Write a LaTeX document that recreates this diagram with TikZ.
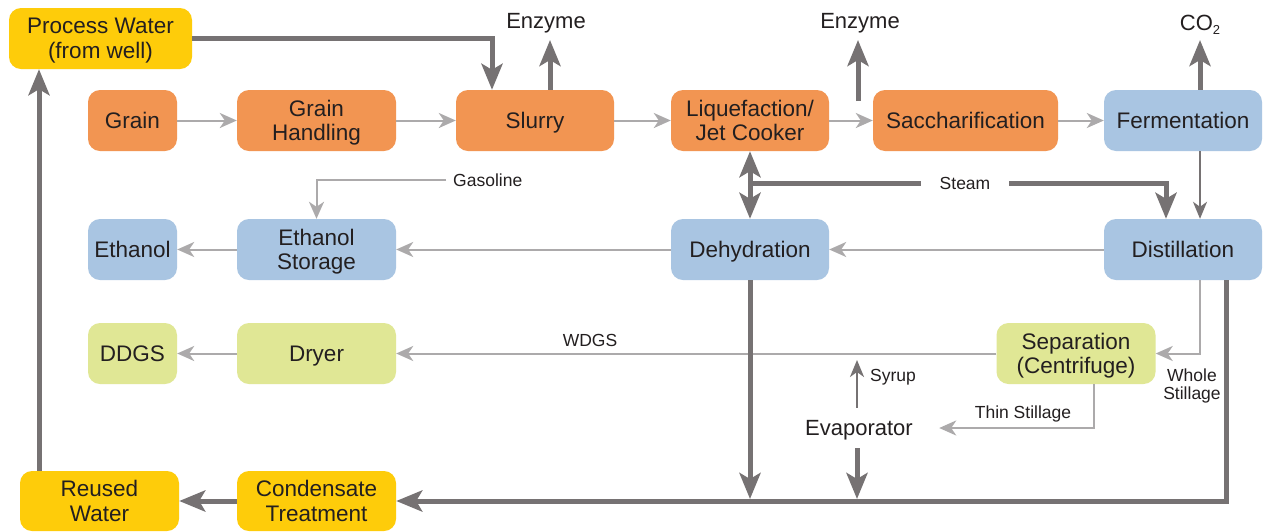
\documentclass[tikz,border=0pt]{standalone}
\usepackage{fontspec}
\setmainfont{Liberation Sans}
\usetikzlibrary{arrows.meta,calc}
\definecolor{orng}{HTML}{F29552}
\definecolor{blu}{HTML}{A9C5E2}
\definecolor{grn}{HTML}{E0E795}
\definecolor{yel}{HTML}{FECC0A}
\definecolor{txt}{HTML}{231F20}
\definecolor{lgray}{HTML}{ACAAAB}
\definecolor{dgray}{HTML}{767273}
\begin{document}
\begin{tikzpicture}[x=1pt,y=-1pt,
  box/.style={rounded corners=12pt, inner sep=0pt, minimum height=61pt, text=txt,
    font=\fontsize{22.5}{24.5}\selectfont, align=center, text depth=0pt},
  lbl/.style={font=\fontsize{17.5}{18.5}\selectfont, text=txt, inner sep=0pt, align=center},
  big/.style={font=\fontsize{22}{24}\selectfont, text=txt, inner sep=0pt},
  lt/.style={draw=lgray, line width=2pt, -{Stealth[length=17pt,width=15pt,inset=5pt]}},
  md/.style={draw=dgray, line width=2pt, -{Stealth[length=17pt,width=14pt,inset=5pt]}},
  thk/.style={draw=dgray, line width=5pt},
  thka/.style={thk, -{Stealth[length=26pt,width=21pt,inset=6pt]}},
]
\useasboundingbox[fill=white] (0,0) rectangle (1263,531);

% boxes
\node[box, fill=yel, minimum width=183pt] (pw) at (100.5,38.5) {Process Water\\(from well)};
\node[box, fill=orng, minimum width=89pt] (grain) at (132.5,120.5) {Grain};
\node[box, fill=orng, minimum width=159pt] (gh) at (316.5,120.5) {Grain\\Handling};
\node[box, fill=orng, minimum width=158pt] (slurry) at (535,120.5) {Slurry};
\node[box, fill=orng, minimum width=158pt] (liq) at (750,120.5) {Liquefaction/\\Jet Cooker};
\node[box, fill=orng, minimum width=185pt] (sac) at (965.5,120.5) {Saccharification};
\node[box, fill=blu, minimum width=158pt] (ferm) at (1183,120.5) {Fermentation};
\node[box, fill=blu, minimum width=89pt] (eth) at (132.5,249.5) {Ethanol};
\node[box, fill=blu, minimum width=159pt] (es) at (316.5,249.5) {Ethanol\\Storage};
\node[box, fill=blu, minimum width=158pt] (dehy) at (750,249.5) {Dehydration};
\node[box, fill=blu, minimum width=158pt] (dist) at (1183,249.5) {Distillation};
\node[box, fill=grn, minimum width=89pt] (ddgs) at (132.5,353.5) {DDGS};
\node[box, fill=grn, minimum width=159pt] (dryer) at (316.5,353.5) {Dryer};
\node[box, fill=grn, minimum width=159pt] (sep) at (1076,353.5) {Separation\\(Centrifuge)};
\node[box, fill=yel, minimum width=159pt, minimum height=60pt] (rw) at (99.5,501) {Reused\\Water};
\node[box, fill=yel, minimum width=159pt, minimum height=60pt] (ct) at (316.5,501) {Condensate\\Treatment};
\node[big, minimum width=160pt, minimum height=40pt, text depth=0pt] (evap) at (859,428) {Evaporator};

% top labels
\node[big, anchor=base] (enz1) at (546,28) {Enzyme};
\node[big, anchor=base] (enz2) at (860,28) {Enzyme};
\node[big, anchor=base] (co2) at (1200,30) {CO\raisebox{-0.4ex}{\fontsize{13}{13}\selectfont 2}};
\coordinate (enz1tip) at (550,40);
\coordinate (enz2tip) at (858,40);
\coordinate (enz2src) at (858,101);
\coordinate (co2tip) at (1200,40);

% other labels
\node[lbl, minimum width=88pt] (steam) at (965,183) {Steam};
\node[lbl, anchor=west, inner xsep=7pt] (gas) at (446,180) {Gasoline};
\node[lbl] (wdgs) at (590,340) {WDGS};
\node[lbl] (whole) at (1192,386) {Whole\\Stillage};
\node[lbl] (thin) at (1023,414) {Thin Stillage};
\node[lbl] (syrup) at (893,377) {Syrup};

% light process arrows
\draw[lt] (grain) -- (gh);
\draw[lt] (gh) -- (slurry);
\draw[lt] (slurry) -- (liq);
\draw[lt] (liq) -- (sac);
\draw[lt] (sac) -- (ferm);
\draw[lt] (dist) -- (dehy);
\draw[lt] (dehy) -- (es);
\draw[lt] (es) -- (eth);
\draw[lt] (gas.west) -| (es.north);
\draw[lt] ([xshift=17pt]dist.south) |- (sep.east);
\draw[lt] (sep.west) -- (dryer.east);
\draw[lt] (dryer) -- (ddgs);
\draw[lt] ([xshift=18pt]sep.south) |- (evap.east);

% medium arrows
\draw[md] ([xshift=17pt]ferm.south) -- ([xshift=17pt]dist.north);
\coordinate (syrtip) at (857,360);
\draw[md] (evap.north -| syrtip) -- (syrtip);

% thick arrows
\draw[thka] (pw.east) -| ([xshift=-43pt]slurry.north);
\draw[thka] ([xshift=15pt]slurry.north) -- (enz1tip);
\draw[thka] (enz2src) -- (enz2tip);
\draw[thka] ([xshift=17pt]ferm.north) -- (co2tip);
\draw[thk, {Stealth[length=26pt,width=21pt,inset=6pt]}-{Stealth[length=26pt,width=21pt,inset=6pt]}] (liq.south) -- (dehy.north);
\coordinate (stL) at (750,183);
\coordinate (stR) at (1166,183);
\draw[thk] (stL) -- (steam.west);
\draw[thka] (steam.east) -- (stR) -- (stR |- dist.north);
\coordinate (b1) at (750,499);
\coordinate (b2) at (857,499);
\draw[thka] (dehy.south) -- (b1);
\draw[thka] (evap.south -| b2) -- (b2);
\draw[thka] ([xshift=43pt]dist.south) |- (ct.east);
\draw[thka] (ct.west) -- (rw.east);
\draw[thka] ([xshift=-60.5pt]rw.north) -- ([xshift=-60.5pt]rw.north |- pw.south);
\end{tikzpicture}
\end{document}
